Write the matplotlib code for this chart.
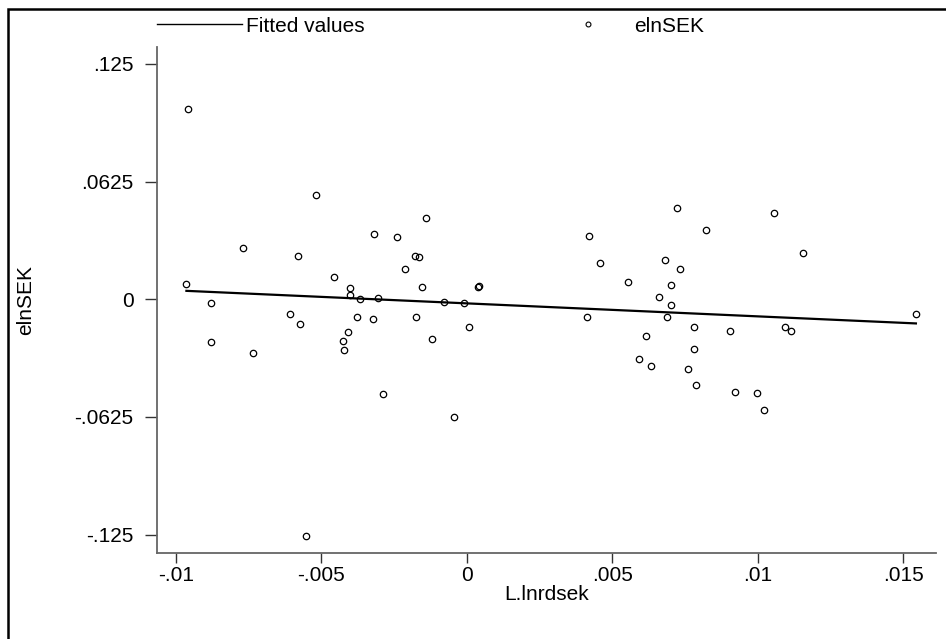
import numpy as np
import matplotlib.pyplot as plt
from matplotlib.lines import Line2D
from matplotlib.patches import Rectangle

plt.rcParams["font.family"] = ["Liberation Sans", "DejaVu Sans"]

# L.lnrdsek (x) and elnSEK (y)
lnrdsek = [
    -0.00959, -0.00964, -0.00881, -0.00878, -0.00771, -0.00735, -0.00608,
    -0.00581, -0.00572, -0.00553, -0.00517, -0.00458, -0.00424, -0.00421,
    -0.00409, -0.00401, -0.00401, -0.00367, -0.00379, -0.00319, -0.00321,
    -0.00307, -0.00288, -0.00241, -0.00214, -0.00179, -0.00163, -0.00174,
    -0.00153, -0.00142, -0.00120, -0.00080, -0.00044, -0.00008, 0.00007,
    0.00040, 0.00042, 0.00414, 0.00419, 0.00459, 0.00555, 0.00593, 0.00615,
    0.00632, 0.00661, 0.00683, 0.00689, 0.00701, 0.00702, 0.00724, 0.00732,
    0.00762, 0.00782, 0.00782, 0.00789, 0.00822, 0.00906, 0.00923, 0.00999,
    0.01022, 0.01057, 0.01095, 0.01115, 0.01155, 0.01544,
]
elnsek = [
    0.1009, 0.0080, -0.0018, -0.0228, 0.0271, -0.0287, -0.0080,
    0.0232, -0.0129, -0.1255, 0.0556, 0.0117, -0.0221, -0.0272,
    -0.0173, 0.0061, 0.0023, 0.0002, -0.0096, 0.0345, -0.0106,
    0.0007, -0.0502, 0.0333, 0.0159, 0.0232, 0.0223, -0.0092,
    0.0067, 0.0434, -0.0209, -0.0012, -0.0625, -0.0019, -0.0147,
    0.0067, 0.0071, -0.0094, 0.0335, 0.0195, 0.0094, -0.0315, -0.0196,
    -0.0354, 0.0012, 0.0209, -0.0096, 0.0074, -0.0028, 0.0483, 0.0161,
    -0.0372, -0.0147, -0.0263, -0.0457, 0.0368, -0.0166, -0.0490, -0.0497,
    -0.0587, 0.0459, -0.0145, -0.0171, 0.0248, -0.0076,
]

x_ticks = [-0.01, -0.005, 0, 0.005, 0.01, 0.015]
x_ticklabels = ["-.01", "-.005", "0", ".005", ".01", ".015"]
y_ticks = [-0.125, -0.0625, 0, 0.0625, 0.125]
y_ticklabels = ["-.125", "-.0625", "0", ".0625", ".125"]

FS = 15

x = np.array(lnrdsek)
y = np.array(elnsek)
slope, icpt = np.polyfit(x, y, 1)
order = np.argsort(x)
fitted = icpt + slope * x[order]

fig = plt.figure(figsize=(9.46, 6.39), dpi=100)
ax = fig.add_axes([0.166, 0.1346, 0.8234, 0.7918])

ax.plot(x[order], fitted, color="black", linewidth=1.6, label="Fitted values")
ax.plot(x, y, linestyle="none", marker="o", markersize=4.6,
        markerfacecolor="none", markeredgecolor="black",
        markeredgewidth=0.9, label="elnSEK")

ax.set_xlim(-0.01065, 0.01613)
ax.set_ylim(-0.1347, 0.1339)
ax.set_xticks(x_ticks)
ax.set_xticklabels(x_ticklabels)
ax.set_yticks(y_ticks)
ax.set_yticklabels(y_ticklabels)

for side in ("top", "right"):
    ax.spines[side].set_visible(False)
for side in ("left", "bottom"):
    ax.spines[side].set_color("#666666")
    ax.spines[side].set_linewidth(1.3)

ax.tick_params(axis="y", direction="out", length=9, width=1.0,
               color="#333333", labelsize=FS, pad=8)
ax.tick_params(axis="x", direction="out", length=7.5, width=1.0,
               color="#333333", labelsize=FS, pad=2)

ax.set_xlabel("L.lnrdsek", fontsize=FS, labelpad=0)
ax.set_ylabel("elnSEK", fontsize=FS, labelpad=28)

handles = [
    Line2D([], [], color="black", linewidth=1.0),
    Line2D([], [], linestyle="none", marker="o", markersize=3.5,
           markerfacecolor="none", markeredgecolor="black", markeredgewidth=0.8),
]
fig.legend(handles, ["Fitted values", "elnSEK"], ncol=2, frameon=False,
           loc="center left", bbox_to_anchor=(157 / 946, 1 - 26 / 639),
           fontsize=FS, handlelength=4.1, handletextpad=0.15,
           columnspacing=8.7, borderaxespad=0, borderpad=0)

# outer frame (only left and top edges fall inside the image)
fig.add_artist(Rectangle((7.5 / 946, -0.2), 1.2, 1.2 - 9 / 639,
                         transform=fig.transFigure, fill=False,
                         edgecolor="black", linewidth=1.8, clip_on=False))

fig.savefig("out.png", dpi=100)
